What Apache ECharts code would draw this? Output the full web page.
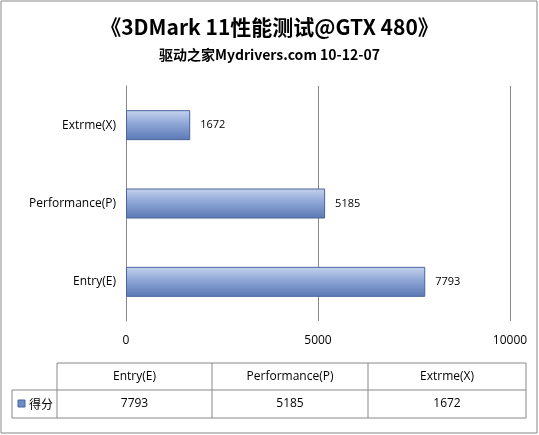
<!DOCTYPE html>
<html><head><meta charset="utf-8">
<script src="https://cdn.jsdelivr.net/npm/echarts@6/dist/echarts.min.js"></script>
<style>body{margin:0;background:#fff}#main{width:539px;height:435px}</style>
</head><body><div id="main"></div>
<script>
const categories = ['Entry(E)', 'Performance(P)', 'Extrme(X)'];
const scores = [7793, 5185, 1672];
const seriesName = '得分';
const xTicks = [0, 5000, 10000];

const chart = echarts.init(document.getElementById('main'));

// data table below the plot
const tx = [57, 212, 368, 526], ty = [363, 390, 418];
const g = [
  {type: 'rect', shape: {x: 1, y: 1, width: 536, height: 432}, style: {fill: 'none', stroke: '#888', lineWidth: 1}},
  {type: 'polyline', shape: {points: [[tx[0], ty[0]], [tx[3], ty[0]], [tx[3], ty[2]], [12, ty[2]], [12, ty[1]], [tx[3], ty[1]]]}, style: {fill: 'none', stroke: '#888'}},
  {type: 'line', shape: {x1: tx[0], y1: ty[0], x2: tx[0], y2: ty[2]}, style: {stroke: '#888'}},
  {type: 'line', shape: {x1: tx[1], y1: ty[0], x2: tx[1], y2: ty[2]}, style: {stroke: '#888'}},
  {type: 'line', shape: {x1: tx[2], y1: ty[0], x2: tx[2], y2: ty[2]}, style: {stroke: '#888'}},
  {type: 'rect', shape: {x: 18, y: 400, width: 7, height: 7}, style: {fill: '#6f8bc4', stroke: '#4a659c'}},
  {type: 'text', x: 29, y: 404, style: {text: seriesName, font: '12px "Noto Sans CJK SC"', fill: '#000', verticalAlign: 'middle'}}
];
categories.forEach((c, i) => {
  const cx = (tx[i] + tx[i + 1]) / 2;
  g.push({type: 'text', x: cx, y: 377, style: {text: c, font: '12px "Open Sans"', fill: '#000', align: 'center', verticalAlign: 'middle'}});
  g.push({type: 'text', x: cx, y: 404, style: {text: String(scores[i]), font: '12px "Open Sans"', fill: '#000', align: 'center', verticalAlign: 'middle'}});
});

chart.setOption({
  animation: false,
  title: {
    text: '《3DMark 11性能测试@GTX 480》',
    subtext: '驱动之家Mydrivers.com 10-12-07',
    left: 'center', top: 12, itemGap: 10,
    textStyle: {fontSize: 21, fontWeight: 'bold', color: '#000', fontFamily: 'Noto Sans CJK SC'},
    subtextStyle: {fontSize: 14, fontWeight: 'bold', color: '#000', fontFamily: 'Noto Sans CJK SC'}
  },
  grid: {left: 126, right: 29, top: 86, bottom: 114},
  xAxis: {
    type: 'value', min: 0, max: 10000, interval: 5000,
    axisLine: {show: false}, axisTick: {show: false},
    axisLabel: {color: '#000', fontSize: 12, margin: 14, fontFamily: 'Open Sans', formatter: v => String(v)},
    splitLine: {lineStyle: {color: '#888'}}
  },
  yAxis: {
    type: 'category', data: categories,
    axisLine: {lineStyle: {color: '#888'}}, axisTick: {show: false},
    axisLabel: {color: '#000', fontSize: 12, margin: 10, fontFamily: 'Open Sans'}
  },
  series: [{
    type: 'bar', name: seriesName, data: scores, barWidth: 30,
    itemStyle: {
      borderColor: '#4a659c', borderWidth: 1,
      color: new echarts.graphic.LinearGradient(0, 0, 0, 1, [
        {offset: 0, color: '#c5d3ee'}, {offset: 0.45, color: '#8ea6d6'}, {offset: 1, color: '#5a78b4'}
      ])
    },
    label: {show: true, position: 'right', distance: 10, color: '#000', fontSize: 11, fontFamily: 'Open Sans'}
  }],
  graphic: g
});
</script></body></html>
